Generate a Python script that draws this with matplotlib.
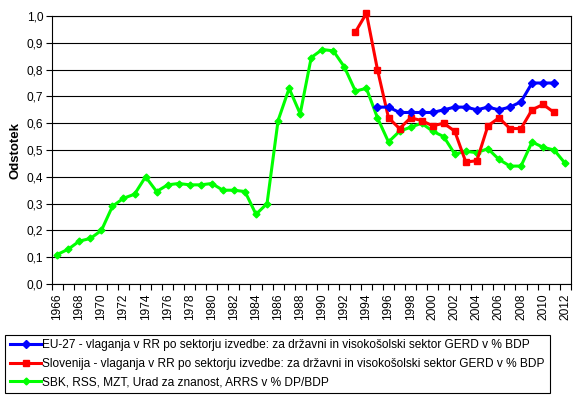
import numpy as np
import matplotlib
matplotlib.use("Agg")
import matplotlib.pyplot as plt
from matplotlib.ticker import FuncFormatter

plt.rcParams['font.family'] = ['Liberation Sans', 'DejaVu Sans']
plt.rcParams['font.size'] = 8.6

# Data
years = list(range(1966, 2013))
nan = np.nan

eu27 = [nan] * 29 + [0.66, 0.66, 0.64, 0.64, 0.64, 0.64, 0.65, 0.66, 0.66, 0.65,
                     0.66, 0.65, 0.66, 0.68, 0.75, 0.75, 0.75, nan]

slovenija = [nan] * 27 + [0.94, 1.01, 0.80, 0.62, 0.58, 0.62, 0.61, 0.59, 0.60, 0.57,
                          0.455, 0.46, 0.59, 0.62, 0.58, 0.58, 0.65, 0.67, 0.64, nan]

sbk = [0.11, 0.13, 0.16, 0.17, 0.20, 0.29, 0.32, 0.335, 0.40, 0.345,
       0.37, 0.375, 0.37, 0.37, 0.375, 0.35, 0.35, 0.345, 0.26, 0.30,
       0.61, 0.73, 0.635, 0.845, 0.875, 0.87, 0.81, 0.72, 0.73, 0.62,
       0.53, 0.57, 0.585, 0.60, 0.57, 0.55, 0.485, 0.495, 0.49, 0.505,
       0.465, 0.44, 0.44, 0.53, 0.51, 0.50, 0.45]

labels = [
    "EU-27 - vlaganja v RR po sektorju izvedbe: za državni in visokošolski sektor GERD v % BDP",
    "Slovenija - vlaganja v RR po sektorju izvedbe: za državni in visokošolski sektor GERD v % BDP",
    "SBK, RSS, MZT, Urad za znanost, ARRS v % DP/BDP",
]

fig = plt.figure(figsize=(5.76, 3.99), dpi=100)
ax = fig.add_axes([0.0898, 0.2882, 0.9010, 0.6717])

x = np.arange(len(years))
ax.plot(x, eu27, color="#0000FF", lw=2.2, marker="D", ms=4, label=labels[0], zorder=4)
ax.plot(x, slovenija, color="#FF0000", lw=2.2, marker="s", ms=5, label=labels[1],
        zorder=3, clip_on=False)
ax.plot(x, sbk, color="#00FF00", lw=2.2, marker="D", ms=3.5, label=labels[2], zorder=2)

ax.set_xlim(-0.5, len(years) - 0.5)
ax.set_ylim(0, 1.0)
ax.set_yticks(np.arange(0, 1.01, 0.1))
ax.yaxis.set_major_formatter(FuncFormatter(lambda v, p: f"{v:.1f}".replace(".", ",")))
ax.grid(axis="y", color="black", lw=0.8)
ax.set_axisbelow(True)

ax.set_xticks(x[::2])
ax.set_xticklabels([str(y) for y in years[::2]], rotation=90)
ax.set_xticks(np.arange(-0.5, len(years), 1), minor=True)
ax.tick_params(axis="x", which="major", length=0, pad=7)
ax.tick_params(axis="x", which="minor", length=4, width=0.8, direction="out")
ax.tick_params(axis="y", length=4, width=0.8, direction="out", pad=2)

for s in ax.spines.values():
    s.set_color("black")
    s.set_linewidth(0.8)

ax.set_ylabel("Odstotek", fontweight="bold", fontsize=9.5, labelpad=4)

leg = fig.legend(loc="lower left", bbox_to_anchor=(0.0092, 0.0143), fancybox=False,
                 edgecolor="black", framealpha=1, handlelength=2.6, handletextpad=0.1,
                 labelspacing=0.55, borderpad=0.4, borderaxespad=0, fontsize=8.6)
leg.get_frame().set_linewidth(0.8)

fig.savefig("out.png", dpi=100)
